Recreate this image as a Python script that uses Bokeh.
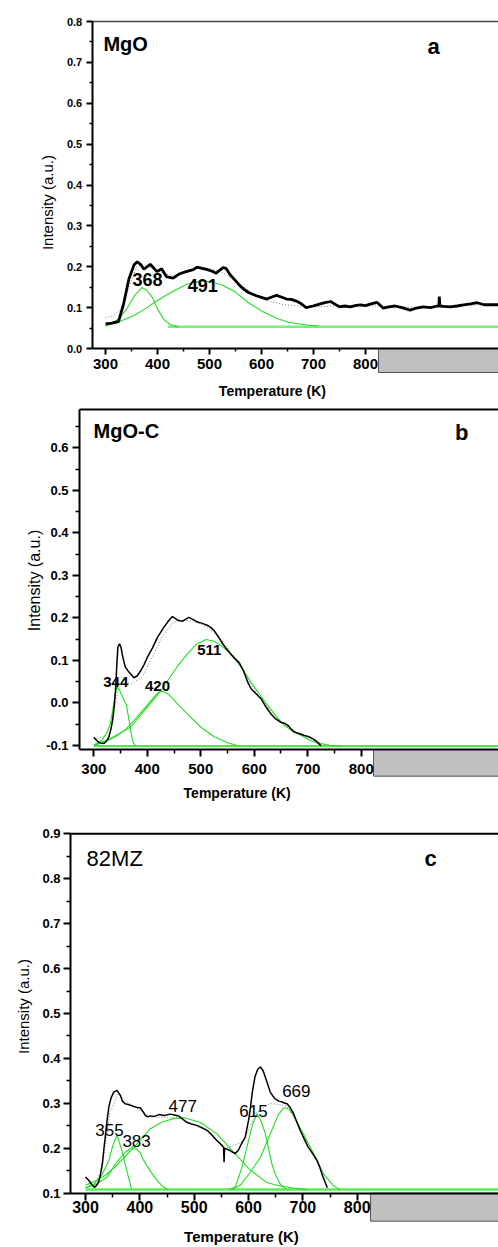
import math
from bokeh.plotting import figure
from bokeh.layouts import column
from bokeh.models import Range1d, FixedTicker, PrintfTickFormatter, Label
from bokeh.embed import file_html
from bokeh.resources import INLINE

FONT = "Liberation Sans"

# ---------------- ticks ----------------
X_TICKS = [300, 400, 500, 600, 700, 800]
X_MINOR = [350, 450, 550, 650, 750]
A_YTICKS = [0.0, 0.1, 0.2, 0.3, 0.4, 0.5, 0.6, 0.7, 0.8]
A_YMINOR = [0.05, 0.15, 0.25, 0.35, 0.45, 0.55, 0.65, 0.75]
B_YTICKS = [-0.1, 0.0, 0.1, 0.2, 0.3, 0.4, 0.5, 0.6]
B_YMINOR = [-0.05, 0.05, 0.15, 0.25, 0.35, 0.45, 0.55, 0.65]
C_YTICKS = [0.1, 0.2, 0.3, 0.4, 0.5, 0.6, 0.7, 0.8, 0.9]
C_YMINOR = [0.15, 0.25, 0.35, 0.45, 0.55, 0.65, 0.75, 0.85]

# ---------------- panel a : MgO ----------------
a_T = [300, 312, 325, 335, 345, 355, 361, 368, 374, 380, 386, 392, 399, 408, 417, 430, 443, 455, 469, 476,
       486, 496, 505, 513, 520, 526, 532, 540, 550, 559, 567, 575, 590, 600, 610, 620, 629, 638, 648, 657,
       667, 676, 686, 699, 710, 722, 733, 742, 750, 760, 771, 780, 790, 800, 811, 822, 834, 845, 857, 870,
       886, 898, 911, 925, 938, 941, 942, 943, 950, 963, 976, 989, 1002, 1015, 1028, 1040, 1056]
a_v = [0.060, 0.062, 0.066, 0.110, 0.170, 0.205, 0.212, 0.205, 0.194, 0.200, 0.206, 0.198, 0.188, 0.195, 0.176, 0.172, 0.183, 0.188, 0.193, 0.199,
       0.196, 0.193, 0.189, 0.184, 0.192, 0.198, 0.196, 0.180, 0.166, 0.153, 0.144, 0.137, 0.129, 0.125, 0.121, 0.126, 0.130, 0.126, 0.121, 0.120,
       0.116, 0.110, 0.100, 0.104, 0.108, 0.112, 0.115, 0.108, 0.102, 0.104, 0.102, 0.105, 0.107, 0.105, 0.109, 0.113, 0.099, 0.102, 0.104, 0.100,
       0.094, 0.099, 0.102, 0.100, 0.104, 0.104, 0.127, 0.104, 0.103, 0.102, 0.104, 0.107, 0.109, 0.112, 0.107, 0.107, 0.107]
a_fit_T = [300, 315, 330, 345, 360, 375, 400, 430, 460, 490, 520, 550, 580, 610, 640, 670, 700, 750, 800, 850, 900, 950, 1000, 1056]
a_fit_v = [0.075, 0.080, 0.095, 0.150, 0.200, 0.205, 0.190, 0.178, 0.192, 0.198, 0.190, 0.165, 0.138, 0.118, 0.108, 0.104, 0.102, 0.104,
           0.105, 0.103, 0.101, 0.103, 0.106, 0.107]
a_base_T = [420, 1056]
a_base_v = [0.053, 0.053]
a_p368_T = [300, 312, 325, 340, 355, 370, 380, 390, 402, 413, 425, 440]
a_p368_v = [0.055, 0.062, 0.072, 0.095, 0.128, 0.149, 0.142, 0.125, 0.092, 0.070, 0.058, 0.053]
a_p491_T = [300, 325, 354, 380, 399, 430, 456, 488, 521, 550, 575, 600, 629, 650, 667, 690, 710]
a_p491_v = [0.055, 0.065, 0.080, 0.100, 0.117, 0.140, 0.157, 0.166, 0.157, 0.138, 0.112, 0.092, 0.074, 0.065, 0.061, 0.057, 0.055]
a_peak_names = ["368", "491"]
a_peak_pos_T = [381, 487]
a_peak_pos_v = [0.170, 0.153]

# ---------------- panel b : MgO-C ----------------
b_T = [300, 305, 309, 314, 319, 324, 328, 332, 335, 338, 341, 343, 345, 348, 351, 353, 356, 359, 364, 369,
       375, 381, 388, 394, 400, 410, 419, 425, 431, 438, 442, 447, 451, 456, 461, 466, 472, 478, 486, 494,
       503, 513, 519, 525, 533, 541, 548, 556, 564, 572, 580, 588, 594, 603, 613, 622, 631, 640, 650, 656,
       663, 669, 675, 685, 694, 702, 710, 716, 722, 725]
b_v = [-0.081, -0.088, -0.093, -0.095, -0.096, -0.090, -0.081, -0.062, -0.042, -0.010, 0.037, 0.090, 0.131, 0.139, 0.130, 0.115, 0.098, 0.084, 0.075, 0.068,
       0.059, 0.063, 0.076, 0.090, 0.107, 0.130, 0.154, 0.166, 0.178, 0.190, 0.196, 0.203, 0.200, 0.195, 0.193, 0.192, 0.197, 0.201, 0.196, 0.190,
       0.187, 0.182, 0.177, 0.170, 0.155, 0.139, 0.127, 0.115, 0.104, 0.094, 0.075, 0.048, 0.033, 0.022, 0.009, -0.010, -0.026, -0.038, -0.046, -0.048,
       -0.053, -0.062, -0.069, -0.073, -0.077, -0.080, -0.085, -0.090, -0.098, -0.101]
b_fit_T = [300, 320, 335, 345, 355, 370, 390, 410, 430, 450, 470, 490, 510, 530, 550, 570, 590, 620, 650, 680, 710, 740]
b_fit_v = [-0.085, -0.080, -0.040, 0.030, 0.050, 0.045, 0.060, 0.110, 0.160, 0.190, 0.195, 0.190, 0.180, 0.160, 0.130, 0.095, 0.050,
           -0.005, -0.045, -0.072, -0.090, -0.100]
b_base_T = [300, 1057]
b_base_v = [-0.102, -0.102]
b_p344_T = [300, 315, 325, 331, 337, 343, 348, 355, 361, 365, 369, 373, 378]
b_p344_v = [-0.100, -0.088, -0.070, -0.049, -0.005, 0.038, 0.030, 0.010, -0.006, -0.035, -0.065, -0.092, -0.102]
b_p420_T = [300, 320, 344, 360, 375, 390, 405, 419, 428, 440, 456, 478, 500, 525, 550, 570]
b_p420_v = [-0.100, -0.093, -0.077, -0.062, -0.042, -0.020, 0.002, 0.023, 0.027, 0.020, -0.002, -0.030, -0.057, -0.080, -0.094, -0.101]
b_p511_T = [300, 330, 369, 400, 420, 438, 456, 475, 492, 510, 525, 538, 550, 563, 578, 594, 610, 625, 640, 656, 672, 688, 704, 719, 740, 763]
b_p511_v = [-0.100, -0.085, -0.057, -0.010, 0.020, 0.052, 0.085, 0.115, 0.138, 0.149, 0.145, 0.135, 0.122, 0.104, 0.080, 0.048, 0.020,
            -0.006, -0.030, -0.053, -0.067, -0.077, -0.088, -0.095, -0.100, -0.102]
b_peak_names = ["344", "420", "511"]
b_peak_pos_T = [341, 419, 516]
b_peak_pos_v = [0.048, 0.040, 0.125]

# ---------------- panel c : 82MZ ----------------
c_T = [300, 305, 309, 313, 317, 321, 325, 328, 331, 334, 337, 340, 343, 347, 352, 358, 364, 368, 373, 380,
       389, 395, 401, 405, 410, 415, 419, 427, 435, 445, 456, 464, 471, 478, 486, 495, 505, 514, 524, 533,
       542, 548, 554, 555, 556, 560, 566, 575, 581, 587, 594, 600, 603, 607, 612, 617, 622, 627, 631, 636,
       640, 645, 649, 656, 662, 667, 671, 677, 683, 689, 695, 702, 710, 718, 726, 731, 735, 740, 745]
c_v = [0.136, 0.130, 0.124, 0.117, 0.113, 0.118, 0.128, 0.145, 0.165, 0.200, 0.232, 0.265, 0.292, 0.312, 0.325, 0.329, 0.318, 0.305, 0.299, 0.297,
       0.293, 0.291, 0.290, 0.283, 0.273, 0.270, 0.272, 0.271, 0.275, 0.273, 0.276, 0.274, 0.272, 0.266, 0.258, 0.254, 0.251, 0.246, 0.240, 0.229,
       0.217, 0.210, 0.202, 0.169, 0.200, 0.198, 0.195, 0.188, 0.195, 0.210, 0.225, 0.262, 0.285, 0.325, 0.360, 0.376, 0.381, 0.372, 0.358, 0.340,
       0.325, 0.316, 0.310, 0.305, 0.303, 0.300, 0.299, 0.290, 0.277, 0.258, 0.240, 0.222, 0.202, 0.188, 0.173, 0.158, 0.143, 0.127, 0.112]
c_fit_T = [300, 315, 330, 345, 360, 380, 420, 470, 520, 560, 590, 615, 640, 670, 700, 725]
c_fit_v = [0.125, 0.115, 0.150, 0.280, 0.320, 0.300, 0.270, 0.268, 0.240, 0.200, 0.215, 0.280, 0.300, 0.295, 0.235, 0.175]
c_base_T = [300, 1060]
c_base_v = [0.108, 0.108]
c_p355_T = [300, 315, 330, 343, 350, 358, 367, 373, 379, 385]
c_p355_v = [0.112, 0.120, 0.140, 0.173, 0.205, 0.229, 0.195, 0.165, 0.136, 0.108]
c_p383_T = [300, 320, 340, 358, 372, 388, 400, 407, 420, 432, 442, 452]
c_p383_v = [0.112, 0.120, 0.136, 0.170, 0.190, 0.204, 0.192, 0.173, 0.148, 0.128, 0.115, 0.108]
c_p477_T = [300, 320, 337, 360, 389, 419, 440, 462, 481, 511, 542, 573, 601, 633, 658, 685, 707]
c_p477_v = [0.118, 0.128, 0.140, 0.165, 0.202, 0.243, 0.258, 0.266, 0.268, 0.258, 0.232, 0.191, 0.154, 0.124, 0.116, 0.111, 0.108]
c_p615_T = [565, 576, 588, 600, 608, 616, 624, 631, 643, 650, 658, 670]
c_p615_v = [0.108, 0.115, 0.158, 0.217, 0.255, 0.277, 0.258, 0.232, 0.165, 0.140, 0.121, 0.108]
c_p669_T = [570, 585, 603, 622, 640, 655, 665, 675, 683, 701, 720, 738, 756, 768]
c_p669_v = [0.108, 0.118, 0.146, 0.180, 0.232, 0.275, 0.290, 0.287, 0.273, 0.232, 0.188, 0.143, 0.117, 0.108]
c_peak_names = ["355", "383", "477", "615", "669"]
c_peak_pos_T = [344, 394, 479, 609, 688]
c_peak_pos_v = [0.241, 0.217, 0.294, 0.284, 0.328]


def make_panel(cfg, exp_T, exp_v, fit_T, fit_v, base_T, base_v, peaks, names, pos_T, pos_v, yticks, yminor):
    # the frame fills the whole figure; axes are pinned at data locations
    p = figure(frame_width=cfg["w"], frame_height=cfg["h"],
               x_range=Range1d(*cfg["xr"]), y_range=Range1d(*cfg["yr"]),
               output_backend="svg", toolbar_location=None,
               min_border=0, min_border_left=0, min_border_right=0,
               min_border_top=0, min_border_bottom=0)
    p.outline_line_color = None
    p.xgrid.visible = False
    p.ygrid.visible = False
    p.background_fill_color = "white"
    p.border_fill_color = "white"
    x0 = cfg["x0"]
    y0, y1 = cfg["ylim"]
    xend = cfg["xr"][1]
    xa = p.xaxis[0]
    ya = p.yaxis[0]
    xa.fixed_location = y0
    ya.fixed_location = x0
    xa.bounds = (x0, xend)
    ya.bounds = (y0, y1)
    xa.ticker = FixedTicker(ticks=X_TICKS, minor_ticks=X_MINOR)
    ya.ticker = FixedTicker(ticks=yticks, minor_ticks=yminor)
    ya.formatter = PrintfTickFormatter(format="%.1f")
    for ax in (xa, ya):
        ax.axis_line_width = 2
        ax.axis_line_color = "black"
        ax.major_tick_line_width = 2
        ax.minor_tick_line_width = 1.5
        ax.major_tick_in = 0
        ax.minor_tick_in = 0
        ax.major_tick_out = cfg["tick"]
        ax.minor_tick_out = cfg["tick"] - 3
        ax.major_label_text_font = FONT
        ax.major_label_text_font_style = "bold"
        ax.major_label_text_color = "black"
    xa.major_label_text_font_size = cfg["xtick_fs"]
    ya.major_label_text_font_size = cfg["ytick_fs"]
    xa.major_label_standoff = cfg["xstand"]
    ya.major_label_standoff = cfg["ystand"]

    # gray box beneath the right part of the x axis
    p.quad(left=[cfg["box_left"]], right=[xend + 5], bottom=[cfg["box_bottom"]], top=[y0],
           fill_color="#c0c0c0", fill_alpha=1.0, line_color="#555555", line_width=1)
    # top border of the frame
    p.line([x0, xend + 5], [y1, y1], line_color=cfg["top_color"], line_width=cfg["top_w"])

    # fit envelope (dotted)
    p.line(fit_T, fit_v, line_color="#808080", line_width=1, line_dash="1 2")
    # baseline
    p.line(base_T, base_v, line_color=cfg["base_color"], line_width=cfg["base_w"])
    # gaussian components
    for (tt, vv) in peaks:
        p.line(tt, vv, line_color="#22dd22", line_width=1.1)
    # experimental signal
    p.line(exp_T, exp_v, line_color="black", line_width=cfg["exp_w"])

    for nm, tx, vy in zip(names, pos_T, pos_v):
        p.add_layout(Label(x=tx, y=vy, text=nm, text_font=FONT, text_font_size=cfg["pk_fs"],
                           text_font_style=cfg["pk_style"], text_align="center",
                           text_baseline="middle", text_color="black"))

    p.add_layout(Label(x=cfg["name_xy"][0], y=cfg["name_xy"][1], text=cfg["name"], text_font=FONT,
                       text_font_size=cfg["name_fs"], text_font_style=cfg["name_style"],
                       text_align="left", text_baseline="middle", text_color="black"))
    p.add_layout(Label(x=cfg["let_xy"][0], y=cfg["let_xy"][1], text=cfg["letter"], text_font=FONT,
                       text_font_size="22px", text_font_style="bold",
                       text_align="center", text_baseline="middle", text_color="black"))

    p.add_layout(Label(x=cfg["xt_xy"][0], y=cfg["xt_xy"][1],
                       text="Temperature (K)", text_font=FONT, text_font_size=cfg["xt_fs"],
                       text_font_style="bold", text_align="center", text_baseline="middle",
                       text_color="black"))
    p.add_layout(Label(x=cfg["yt_xy"][0], y=cfg["yt_xy"][1],
                       angle=math.pi / 2, text="Intensity (a.u.)", text_font=FONT,
                       text_font_size=cfg["yt_fs"], text_align="center", text_baseline="middle",
                       text_color="black"))
    return p


cfg_a = dict(w=498, h=400, xr=(98.08, 1055.8), yr=(-0.1272, 0.8514), x0=274.4, ylim=(0.0, 0.8),
             tick=6, xtick_fs="15px", ytick_fs="11px", xstand=4, ystand=4,
             top_color="#444444", top_w=1.5, box_left=825, box_bottom=-0.0587,
             base_color="#77ee77", base_w=2.5, exp_w=2.8, pk_fs="18px", pk_style="bold",
             name="MgO", name_xy=(296, 0.746), name_fs="20px", name_style="bold",
             letter="a", let_xy=(931, 0.74),
             xt_xy=(621, -0.1028), xt_fs="14px", yt_xy=(188.5, 0.357), yt_fs="15px")
cfg_b = dict(w=498, h=402, xr=(125.5, 1056.7), yr=(-0.2348, 0.7118), x0=273.3, ylim=(-0.11, 0.6906),
             tick=7, xtick_fs="15px", ytick_fs="13px", xstand=7, ystand=4,
             top_color="black", top_w=2, box_left=823, box_bottom=-0.1728,
             base_color="#00ee00", base_w=1.5, exp_w=1.5, pk_fs="15px", pk_style="bold",
             name="MgO-C", name_xy=(299.5, 0.641), name_fs="20px", name_style="bold",
             letter="b", let_xy=(988, 0.636),
             xt_xy=(568, -0.2136), xt_fs="14px", yt_xy=(189.1, 0.288), yt_fs="16px")
cfg_c = dict(w=498, h=445, xr=(143.6, 1060.0), yr=(-0.0209, 0.9697), x0=272.4, ylim=(0.1, 0.9),
             tick=7, xtick_fs="16px", ytick_fs="13px", xstand=1, ystand=3,
             top_color="black", top_w=2, box_left=824.5, box_bottom=0.0377,
             base_color="#55ee55", base_w=2.5, exp_w=1.5, pk_fs="17px", pk_style="normal",
             name="82MZ", name_xy=(302, 0.845), name_fs="22px", name_style="normal",
             letter="c", let_xy=(935, 0.845),
             xt_xy=(587, 0.0045), xt_fs="15px", yt_xy=(185.9, 0.5156), yt_fs="15px")

pa = make_panel(cfg_a, a_T, a_v, a_fit_T, a_fit_v, a_base_T, a_base_v,
                [(a_p368_T, a_p368_v), (a_p491_T, a_p491_v)],
                a_peak_names, a_peak_pos_T, a_peak_pos_v, A_YTICKS, A_YMINOR)
pb = make_panel(cfg_b, b_T, b_v, b_fit_T, b_fit_v, b_base_T, b_base_v,
                [(b_p344_T, b_p344_v), (b_p420_T, b_p420_v), (b_p511_T, b_p511_v)],
                b_peak_names, b_peak_pos_T, b_peak_pos_v, B_YTICKS, B_YMINOR)
pc = make_panel(cfg_c, c_T, c_v, c_fit_T, c_fit_v, c_base_T, c_base_v,
                [(c_p355_T, c_p355_v), (c_p383_T, c_p383_v), (c_p477_T, c_p477_v),
                 (c_p615_T, c_p615_v), (c_p669_T, c_p669_v)],
                c_peak_names, c_peak_pos_T, c_peak_pos_v, C_YTICKS, C_YMINOR)

layout = column(pa, pb, pc, spacing=0)
open("out.html", "w").write(file_html(layout, INLINE))
